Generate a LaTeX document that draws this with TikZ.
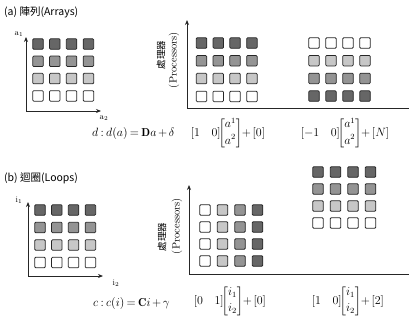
\documentclass[tikz,border=0pt]{standalone}
\usepackage{amsmath}
\usepackage{fontspec}
\newfontfamily\cjk{Noto Sans CJK TC}
\usetikzlibrary{arrows.meta}
\colorlet{lv0}{white}
\colorlet{lv1}{black!22}
\colorlet{lv2}{black!42}
\colorlet{lv3}{black!60}
\newcommand\tightmath{\medmuskip=2.5mu\relax\thickmuskip=3.5mu\relax}
\tikzset{
  cell/.style={draw=black!85, line width=0.75pt, rounded corners=1pt, minimum size=10.5pt, inner sep=0pt},
  axis/.style={line width=0.8pt, draw=black!85},
  axarrow/.style={axis, -{Stealth[length=5pt,width=4pt]}},
  lbl/.style={inner sep=0pt, font=\fontsize{8.5}{9}\selectfont},
  titlelbl/.style={inner sep=0pt, anchor=west, font=\cjk\fontsize{10.5}{12}\selectfont},
  proccn/.style={inner sep=0pt, rotate=90, font=\cjk\fontsize{9.5}{10}\selectfont},
  procen/.style={inner sep=0pt, rotate=90, font=\fontsize{10.5}{11}\selectfont},
  formula/.style={inner sep=0pt, font=\fontsize{11.5}{13}\selectfont\tightmath},
}
\begin{document}
\begin{tikzpicture}[x=1pt,y=-1pt]
\useasboundingbox (0,0) rectangle (409,324);
% ---------- (a) ----------
\node[titlelbl] (ta) at (4,12) {(a) 陣列(Arrays)};
% left grid a
\foreach \r in {0,...,3}{\foreach \c in {0,...,3}{
  \pgfmathtruncatemacro\lv{3-\r}
  \node[cell, fill=lv\lv] (la-\r-\c) at (38+16.8*\c, 44+17.3*\r) {};
}}
\coordinate (la-o) at (26,111);
\coordinate (la-y) at (26,37);
\coordinate (la-x) at (101,111);
\draw[axarrow] (la-o) -- (la-y);
\draw[axarrow] (la-o) -- (la-x);
\node[lbl] (la-a1) at (19,34) {a$_1$};
\node[lbl] (la-a2) at (104,118) {a$_2$};
% middle grid a
\foreach \r in {0,...,3}{\foreach \c in {0,...,3}{
  \pgfmathtruncatemacro\lv{3-\r}
  \node[cell, fill=lv\lv] (ma-\r-\c) at (201.5+16.8*\c, 43+17.8*\r) {};
}}
% right grid a
\foreach \r in {0,...,3}{\foreach \c in {0,...,3}{
  \pgfmathtruncatemacro\lv{\r}
  \node[cell, fill=lv\lv] (ra-\r-\c) at (314+17*\c, 43+17.7*\r) {};
}}
\coordinate (ma-o) at (187,108);
\coordinate (ma-y) at (187,20);
\coordinate (ma-x) at (409,108);
\draw[axarrow] (ma-o) -- (ma-y);
\draw[axis] (ma-o) -- (ma-x);
\node[proccn] (pa-cn) at (161,55) {處理器};
\node[procen] (pa-en) at (174,60) {(Processors)};
% formulas a
\node[formula, anchor=base west] (fa) at (92,136) {$d : d(a) = \mathbf{D}a + \delta$};
\node[formula] (fa1) at (228,133) {$[1\quad 0]\!\!\left[\begin{matrix}a^1\\[3pt] a^2\end{matrix}\right]\!+[0]$};
\node[formula] (fa2) at (345,133) {$[-1\quad 0]\!\!\left[\begin{matrix}a^1\\[3pt] a^2\end{matrix}\right]\!+[N]$};
% ---------- (b) ----------
\node[titlelbl] (tb) at (4,178) {(b) 迴圈(Loops)};
% left grid b
\foreach \r in {0,...,3}{\foreach \c in {0,...,3}{
  \pgfmathtruncatemacro\lv{3-\r}
  \node[cell, fill=lv\lv] (lb-\r-\c) at (40+16.8*\c, 210+17.5*\r) {};
}}
\coordinate (lb-o) at (28,276);
\coordinate (lb-y) at (28,202);
\coordinate (lb-x) at (103,276);
\draw[axarrow] (lb-o) -- (lb-y);
\draw[axarrow] (lb-o) -- (lb-x);
\node[lbl] (lb-i1) at (19,200) {i$_1$};
\node[lbl] (lb-i2) at (116,283) {i$_2$};
% middle grid b
\foreach \r in {0,...,3}{\foreach \c in {0,...,3}{
  \pgfmathtruncatemacro\lv{\c}
  \node[cell, fill=lv\lv] (mb-\r-\c) at (205+17.5*\c, 210+17*\r) {};
}}
% right grid b
\foreach \r in {0,...,3}{\foreach \c in {0,...,3}{
  \pgfmathtruncatemacro\lv{3-\r}
  \node[cell, fill=lv\lv] (rb-\r-\c) at (318+17.5*\c, 172+17*\r) {};
}}
\coordinate (mb-o) at (189,274);
\coordinate (mb-y) at (189,185);
\coordinate (mb-x) at (409,274);
\draw[axarrow] (mb-o) -- (mb-y);
\draw[axis] (mb-o) -- (mb-x);
\node[proccn] (pb-cn) at (162,237) {處理器};
\node[procen] (pb-en) at (177,226) {(Processors)};
% formulas b
\node[formula, anchor=base west] (fb) at (93,306) {$c : c(i) = \mathbf{C}i + \gamma$};
\node[formula] (fb1) at (230,301) {$[0\quad 1]\!\!\left[\begin{matrix}i_1\\[3pt] i_2\end{matrix}\right]\!+[0]$};
\node[formula] (fb2) at (348,301) {$[1\quad 0]\!\!\left[\begin{matrix}i_1\\[3pt] i_2\end{matrix}\right]\!+[2]$};
\end{tikzpicture}
\end{document}
